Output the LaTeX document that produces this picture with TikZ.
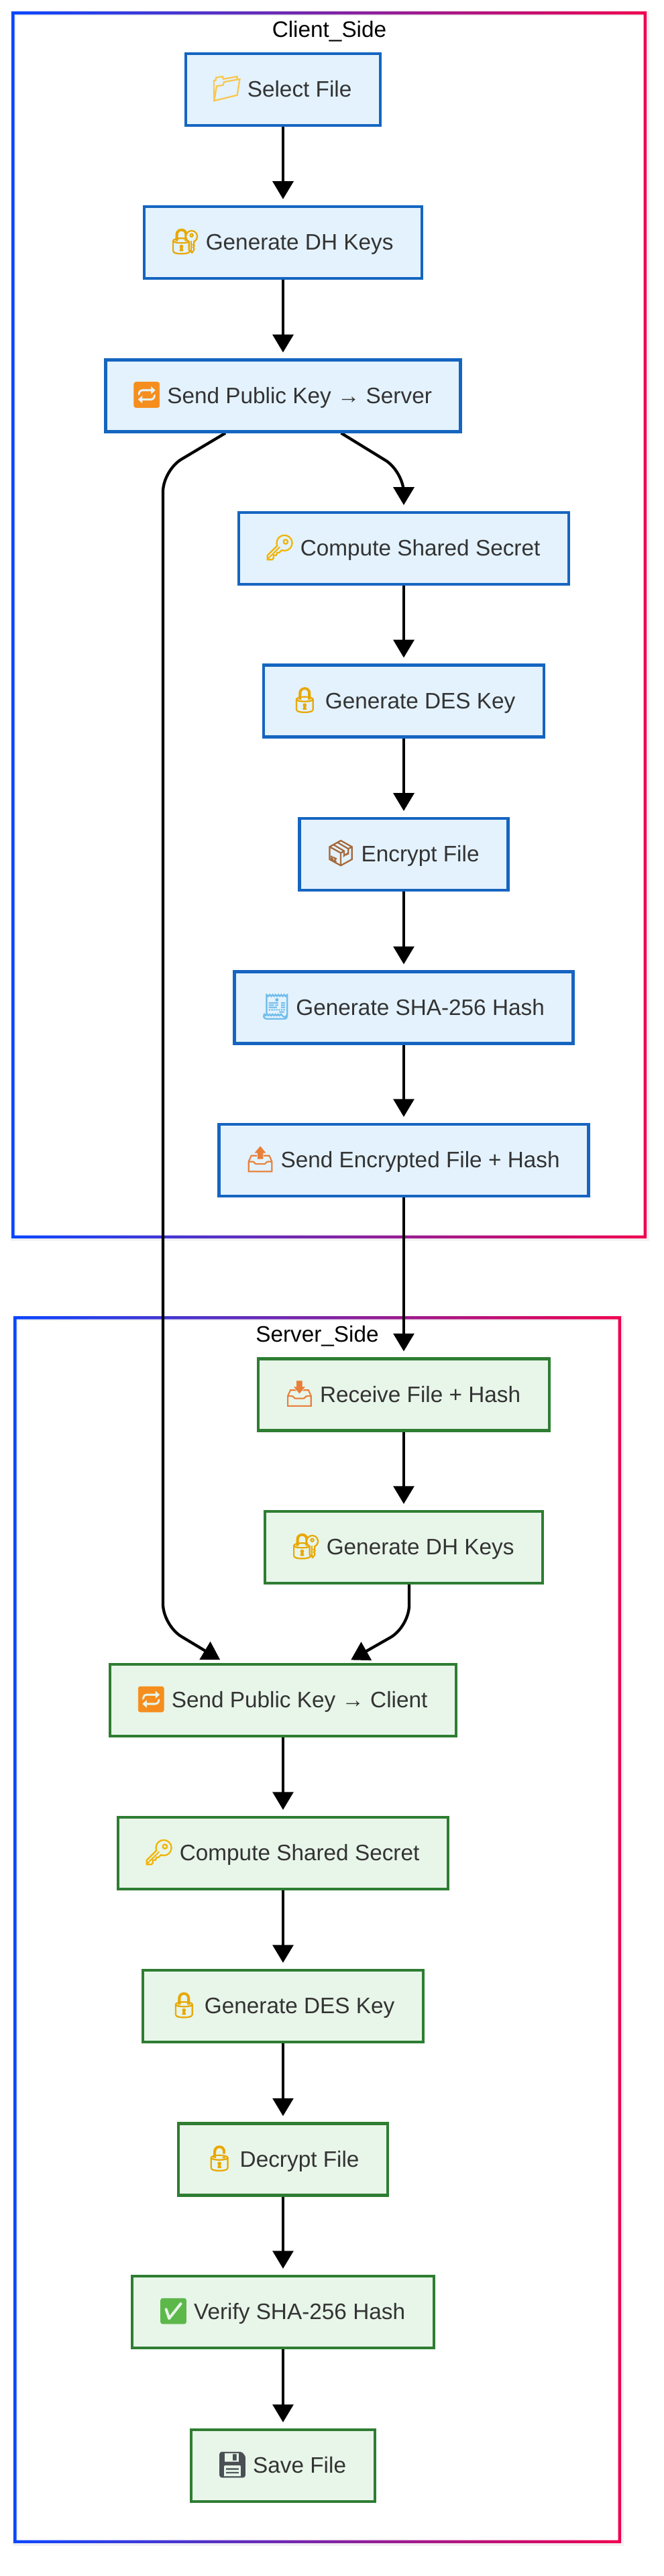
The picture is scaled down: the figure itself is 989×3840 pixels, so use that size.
\documentclass[tikz,border=0pt]{standalone}
\usepackage{fontspec}
\setmainfont{Liberation Sans}
\newfontfamily\emofont[FakeBold=2]{Noto Emoji}
\usetikzlibrary{arrows.meta}
\usetikzlibrary{backgrounds}
\usetikzlibrary{shadows}
\definecolor{clientfill}{HTML}{E3F2FD}
\definecolor{clientline}{HTML}{1565C0}
\definecolor{serverfill}{HTML}{E8F5E9}
\definecolor{serverline}{HTML}{2E7D32}
\definecolor{frameblue}{HTML}{0A46FF}
\definecolor{framered}{HTML}{F0004F}
\definecolor{labeltext}{HTML}{333333}
\newcommand{\emo}[2]{\makebox[28pt][c]{\smash{\textcolor[HTML]{#1}{\fontsize{28}{30}\selectfont\emofont #2}}}\hspace{2pt} }
\tikzset{
	basebox/.style={shape=rectangle, draw, line width=3.4pt, inner xsep=32pt, inner ysep=0pt, minimum height=80pt,
		text height=20pt, text depth=3pt, text=labeltext, font=\fontsize{25}{30}\selectfont, anchor=center,
		drop shadow={shadow xshift=1.5pt, shadow yshift=-1.5pt, opacity=0.18, fill=black}},
	clientbox/.style={basebox, draw=clientline, fill=clientfill},
	serverbox/.style={basebox, draw=serverline, fill=serverfill},
	title/.style={font=\fontsize{25}{30}\selectfont, text=black, inner sep=0pt},
	flow/.style={draw=black, line width=3.2pt, -{Triangle[length=20pt, width=23pt]}, shorten >=6.75pt},
	frameline/.style={left color=frameblue, right color=framered, even odd rule},
	framesoft/.style={draw=black, opacity=0.05, line width=6pt}
}
\begin{document}
\begin{tikzpicture}[x=0.75pt, y=-0.75pt]
	\useasboundingbox (0,0) rectangle (989,3840);

	\node (tc) at (491,47) [title] {Client\_Side};
	\node (ts) at (473,1992) [title] {Server\_Side};

	\node (c1) at (422,133.5) [clientbox] {\emo{F9C74F}{📁}Select File};
	\node (c2) at (422,361.5) [clientbox] {\emo{E8A800}{🔐}Generate DH Keys};
	\node (c3) at (422,590) [clientbox] {\emo{F58E1E}{🔁}Send Public Key → Server};
	\node (c4) at (602,817.5) [clientbox] {\emo{F0B400}{🔑}Compute Shared Secret};
	\node (c5) at (602,1045) [clientbox] {\emo{E8A800}{🔒}Generate DES Key};
	\node (c6) at (602,1273.5) [clientbox] {\emo{A5683A}{📦}Encrypt File};
	\node (c7) at (602,1502) [clientbox] {\emo{6FBCEB}{🧾}Generate SHA-256 Hash};
	\node (c8) at (602,1729.5) [clientbox] {\emo{E8803A}{📤}Send Encrypted File + Hash};

	\node (s1) at (602,2079) [serverbox] {\emo{E8803A}{📥}Receive File + Hash};
	\node (s2) at (602,2306.5) [serverbox] {\emo{E8A800}{🔐}Generate DH Keys};
	\node (s3) at (422,2534.5) [serverbox] {\emo{F58E1E}{🔁}Send Public Key → Client};
	\node (s4) at (422,2762.5) [serverbox] {\emo{F0B400}{🔑}Compute Shared Secret};
	\node (s5) at (422,2990.5) [serverbox] {\emo{E8A800}{🔒}Generate DES Key};
	\node (s6) at (422,3219) [serverbox] {\emo{E8A800}{🔓}Decrypt File};
	\node (s7) at (422,3446.5) [serverbox] {\emo{5DB84A}{✅}Verify SHA-256 Hash};
	\node (s8) at (422,3675.5) [serverbox] {\emo{4A4F55}{💾}Save File};

	\coordinate (k1) at (243,701);
	\coordinate (k2) at (243,2423);
	\coordinate (k3) at (602,703);
	\coordinate (k4) at (610,2425);

	\begin{pgfonlayer}{background}
		\draw[framesoft] (20,20) rectangle (964,1846);
		\draw[framesoft] (23,1965) rectangle (926,3791);
		\shade[frameline] (17,17) rectangle (964,1846) (21.5,21.5) rectangle (959.5,1841.5);
		\shade[frameline] (20,1962) rectangle (926,3791) (24.5,1966.5) rectangle (921.5,3786.5);

		\draw[flow] (c1) -- (c2);
		\draw[flow] (c2) -- (c3);
		\draw[flow, rounded corners=24pt] ([xshift=-64.5pt]c3.south) -- (k1) -- (k2) -- ([xshift=-64.5pt]s3.north);
		\draw[flow, rounded corners=24pt] ([xshift=65pt]c3.south) -- (k3) -- (c4);
		\draw[flow] (c4) -- (c5);
		\draw[flow] (c5) -- (c6);
		\draw[flow] (c6) -- (c7);
		\draw[flow] (c7) -- (c8);
		\draw[flow] (c8) -- (s1);
		\draw[flow] (s1) -- (s2);
		\draw[flow, rounded corners=24pt] ([xshift=6pt]s2.south) -- (k4) -- ([xshift=70pt]s3.north);
		\draw[flow] (s3) -- (s4);
		\draw[flow] (s4) -- (s5);
		\draw[flow] (s5) -- (s6);
		\draw[flow] (s6) -- (s7);
		\draw[flow] (s7) -- (s8);
	\end{pgfonlayer}
\end{tikzpicture}
\end{document}
